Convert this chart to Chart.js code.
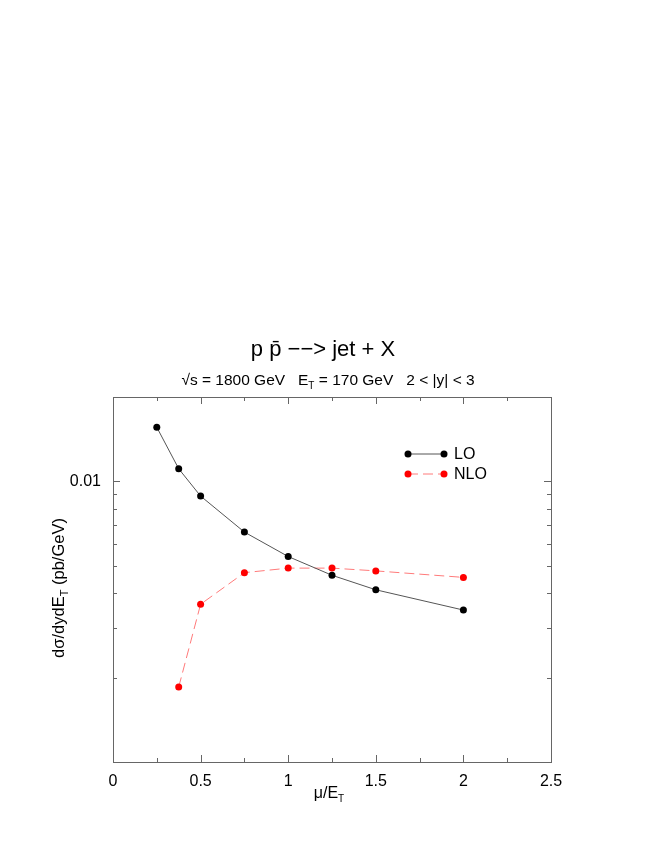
<!DOCTYPE html>
<html>
<head>
<meta charset="utf-8">
<script src="https://cdn.jsdelivr.net/npm/chart.js@4"></script>
<style>
html,body{margin:0;padding:0;background:#fff;}
#wrap{position:relative;width:664px;height:860px;}
</style>
</head>
<body>
<div id="wrap"><canvas id="c" width="664" height="860"></canvas></div>
<script>
const muOverET = [0.25, 0.375, 0.5, 0.75, 1.0, 1.25, 1.5, 2.0];
const loValues = [0.0156, 0.0111, 0.00887, 0.00660, 0.00540, 0.00463, 0.00411, 0.00348];
const nloMu = [0.375, 0.5, 0.75, 1.0, 1.25, 1.5, 2.0];
const nloValues = [0.00185, 0.00365, 0.00473, 0.00491, 0.00491, 0.00480, 0.00455];
const xTickValues = [0, 0.5, 1, 1.5, 2, 2.5];
const xMinorValues = [0.25, 0.75, 1.25, 1.75, 2.25];
const yTickValues = [0.01];
const yMinorValues = [0.002, 0.003, 0.004, 0.005, 0.006, 0.007, 0.008, 0.009];
const seriesNames = ['LO', 'NLO'];

const FONT = '"Liberation Sans", Arial, Helvetica, sans-serif';
const FRAME = '#666';

const framePlugin = {
  id: 'frame',
  afterDatasetsDraw(chart) {
    const ctx = chart.ctx, a = chart.chartArea;
    const xs = chart.scales.x, ys = chart.scales.y;
    ctx.save();
    ctx.strokeStyle = FRAME;
    ctx.lineWidth = 1;
    ctx.strokeRect(Math.round(a.left) + 0.5, Math.round(a.top) + 0.5, Math.round(a.right - a.left), Math.round(a.bottom - a.top));
    ctx.beginPath();
    const vt = (v, len) => {
      const x = Math.round(xs.getPixelForValue(v)) + 0.5;
      ctx.moveTo(x, a.bottom); ctx.lineTo(x, a.bottom - len);
      ctx.moveTo(x, a.top); ctx.lineTo(x, a.top + len);
    };
    const ht = (v, len) => {
      const y = Math.round(ys.getPixelForValue(v)) + 0.5;
      ctx.moveTo(a.left, y); ctx.lineTo(a.left + len, y);
      ctx.moveTo(a.right, y); ctx.lineTo(a.right - len, y);
    };
    xTickValues.forEach(v => vt(v, 7));
    xMinorValues.forEach(v => vt(v, 4));
    yTickValues.forEach(v => ht(v, 7));
    yMinorValues.forEach(v => ht(v, 4));
    ctx.stroke();

    // Legend
    const ds = chart.data.datasets;
    const lx1 = 408, lx2 = 444, ly = [454, 474];
    ds.forEach((d, i) => {
      ctx.beginPath();
      ctx.strokeStyle = d.borderColor;
      ctx.lineWidth = d.borderWidth;
      ctx.setLineDash(d.borderDash || []);
      ctx.moveTo(lx1, ly[i]); ctx.lineTo(lx2, ly[i]);
      ctx.stroke();
      ctx.setLineDash([]);
      ctx.fillStyle = d.pointBackgroundColor;
      [lx1, lx2].forEach(px => { ctx.beginPath(); ctx.arc(px, ly[i], d.pointRadius, 0, Math.PI * 2); ctx.fill(); });
      ctx.fillStyle = '#000';
      ctx.font = '16px ' + FONT;
      ctx.textBaseline = 'middle';
      ctx.textAlign = 'left';
      ctx.fillText(d.label, 454, ly[i] + 1);
    });

    // Titles
    ctx.fillStyle = '#000';
    ctx.textBaseline = 'alphabetic';
    ctx.textAlign = 'center';
    ctx.font = '22px ' + FONT;
    ctx.fillText('p p\u0304 \u2212\u2212> jet + X', 323, 356);

    const parts = [
      ['\u221As = 1800 GeV   E', 15.5, 0],
      ['T', 10, 4],
      [' = 170 GeV   2 < |y| < 3', 15.5, 0]
    ];
    drawParts(ctx, parts, 328, 385);

    drawParts(ctx, [['\u03BC/E', 16, 0], ['T', 10, 4]], 329, 798);

    ctx.save();
    ctx.translate(64, 588);
    ctx.rotate(-Math.PI / 2);
    drawParts(ctx, [['d\u03C3/dydE', 16.5, 0], ['T', 11, 4], [' (pb/GeV)', 16.5, 0]], 0, 0);
    ctx.restore();
    ctx.restore();
  }
};

function drawParts(ctx, parts, cx, y) {
  let w = 0;
  parts.forEach(p => { ctx.font = p[1] + 'px ' + FONT; w += ctx.measureText(p[0]).width; });
  let x = cx - w / 2;
  ctx.textAlign = 'left';
  parts.forEach(p => {
    ctx.font = p[1] + 'px ' + FONT;
    ctx.fillText(p[0], x, y + p[2]);
    x += ctx.measureText(p[0]).width;
  });
  ctx.textAlign = 'center';
}

new Chart(document.getElementById('c'), {
  type: 'line',
  data: {
    datasets: [
      {
        label: seriesNames[0],
        data: muOverET.map((m, i) => ({ x: m, y: loValues[i] })),
        borderColor: '#555',
        borderWidth: 1,
        pointBackgroundColor: '#000',
        pointBorderColor: '#000',
        pointRadius: 3.5,
        pointBorderWidth: 0,
        tension: 0
      },
      {
        label: seriesNames[1],
        data: nloMu.map((m, i) => ({ x: m, y: nloValues[i] })),
        borderColor: '#ff7a7a',
        borderWidth: 1,
        borderDash: [10, 5],
        pointBackgroundColor: '#ff0000',
        pointBorderColor: '#ff0000',
        pointRadius: 3.5,
        pointBorderWidth: 0,
        tension: 0
      }
    ]
  },
  options: {
    responsive: false,
    animation: false,
    layout: { padding: { left: 0, right: 113, top: 397, bottom: 68 } },
    plugins: { legend: { display: false }, tooltip: { enabled: false } },
    scales: {
      x: {
        type: 'linear',
        min: 0, max: 2.5,
        border: { display: false },
        grid: { display: false, drawTicks: false },
        afterBuildTicks(s) { s.ticks = xTickValues.map(v => ({ value: v })); },
        afterFit(s) { s.height = 30; },
        ticks: {
          color: '#000',
          font: { family: FONT, size: 16 },
          padding: 10,
          maxRotation: 0,
          callback: v => String(v)
        }
      },
      y: {
        type: 'logarithmic',
        min: 0.001, max: 0.02,
        border: { display: false },
        grid: { display: false, drawTicks: false },
        afterBuildTicks(s) { s.ticks = yTickValues.map(v => ({ value: v })); },
        afterFit(s) { s.width = 113; },
        ticks: {
          color: '#000',
          font: { family: FONT, size: 16 },
          padding: 12,
          callback: v => String(v)
        }
      }
    }
  },
  plugins: [framePlugin]
});
</script>
</body>
</html>
